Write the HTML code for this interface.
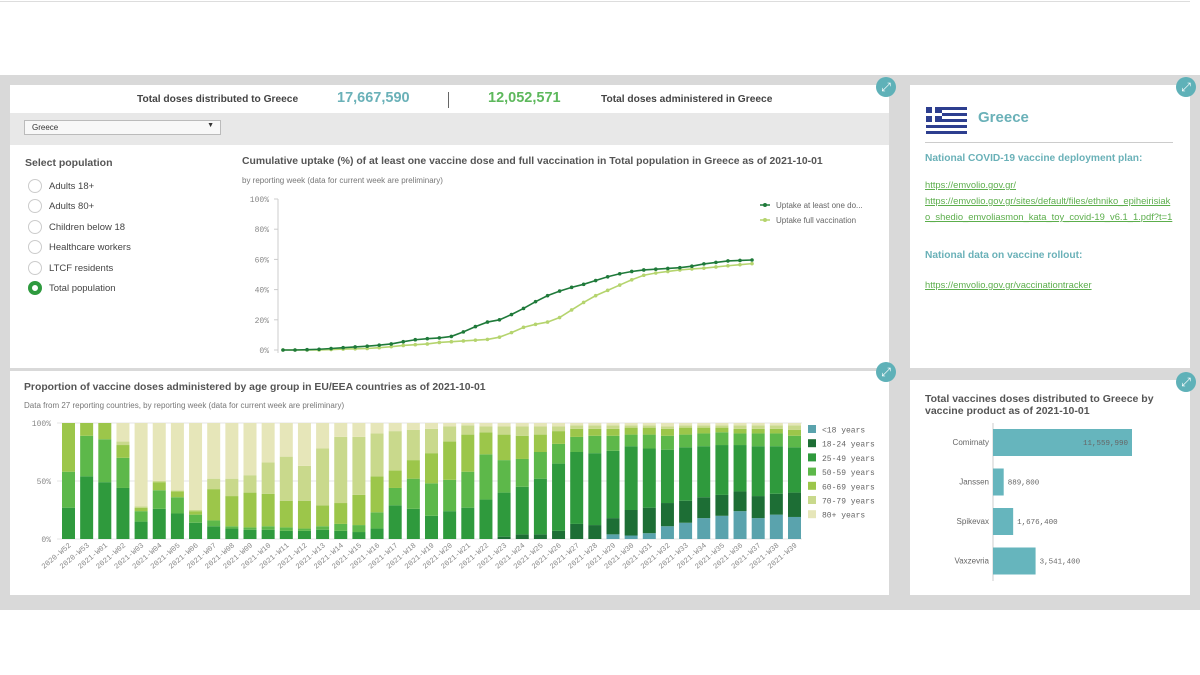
<!DOCTYPE html>
<html><head><meta charset="utf-8">
<style>
*{margin:0;padding:0;box-sizing:border-box}
body{width:1200px;height:675px;background:#fff;font-family:"Liberation Sans",sans-serif;position:relative;overflow:hidden;color:#595959}
.abs{position:absolute}
.panel{position:absolute;background:#fff}
.exp{position:absolute;width:20px;height:20px;border-radius:50%;background:#5fb1b8;color:#fff;font-size:12px;line-height:20px;text-align:center}
.radio{position:absolute;left:28px;width:14px;height:14px;border:1px solid #ccc;border-radius:50%;background:#fff}
.rl{position:absolute;left:49px;font-size:10px;color:#444}
a{color:#5cae4c;text-decoration:underline;font-size:9.4px;word-break:break-all}
</style></head><body>
<div class="abs" style="left:0;top:1px;width:1190px;height:1px;background:#ddd"></div>
<div class="abs" style="left:0;top:75px;width:1200px;height:535px;background:#d9d9d9"></div>

<div class="panel" style="left:10px;top:85px;width:879px;height:283px">
  <div class="abs" style="left:127px;top:9px;font-size:10.2px;font-weight:bold;color:#444">Total doses distributed to Greece</div>
  <div class="abs" style="left:327px;top:5px;font-size:14.5px;font-weight:bold;color:#6ab1b8">17,667,590</div>
  <div class="abs" style="left:438px;top:7px;width:1px;height:16px;background:#666"></div>
  <div class="abs" style="left:478px;top:5px;font-size:14.5px;font-weight:bold;color:#5db85c">12,052,571</div>
  <div class="abs" style="left:591px;top:9px;font-size:10.2px;font-weight:bold;color:#444">Total doses administered in Greece</div>
  <div class="abs" style="left:0;top:28px;width:879px;height:32px;background:#e8e8e8"></div>
  <div class="abs" style="left:14px;top:35px;width:197px;height:15px;background:#f8f8f8;border:1px solid #bbb;font-size:8px;padding:2px 7px;color:#333">Greece<span style="position:absolute;right:6px;top:1px;font-size:7px">▼</span></div>
  <div class="abs" style="left:15px;top:72px;font-size:10.5px;font-weight:bold;color:#555">Select population</div>
  <div class="radio" style="left:18px;top:94px"></div><div class="rl" style="left:39px;top:96px;font-size:9.5px">Adults 18+</div>
  <div class="radio" style="left:18px;top:114px"></div><div class="rl" style="left:39px;top:116px;font-size:9.5px">Adults 80+</div>
  <div class="radio" style="left:18px;top:135px"></div><div class="rl" style="left:39px;top:137px;font-size:9.5px">Children below 18</div>
  <div class="radio" style="left:18px;top:155px"></div><div class="rl" style="left:39px;top:157px;font-size:9.5px">Healthcare workers</div>
  <div class="radio" style="left:18px;top:176px"></div><div class="rl" style="left:39px;top:178px;font-size:9.5px">LTCF residents</div>
  <div class="radio" style="left:18px;top:196px;border:4px solid #2e9a3e"></div><div class="rl" style="left:39px;top:198px;font-size:9.5px">Total population</div>
  <div class="abs" style="left:232px;top:71px;font-size:10.4px;font-weight:bold;color:#555;white-space:nowrap">Cumulative uptake (%) of at least one vaccine dose and full vaccination in Total population in Greece as of 2021-10-01</div>
  <div class="abs" style="left:232px;top:91px;font-size:8px;color:#777">by reporting week (data for current week are preliminary)</div>
</div>
<div class="exp" style="left:876px;top:77px">⤢</div>

<svg class="abs" id="lc" style="left:0;top:0" width="1200" height="675"></svg>

<div class="panel" style="left:10px;top:371px;width:879px;height:224px">
  <div class="abs" style="left:14px;top:11px;font-size:10.4px;font-weight:bold;color:#555;white-space:nowrap">Proportion of vaccine doses administered by age group in EU/EEA countries as of 2021-10-01</div>
  <div class="abs" style="left:14px;top:30px;font-size:8px;color:#777">Data from 27 reporting countries, by reporting week (data for current week are preliminary)</div>
</div>
<div class="exp" style="left:876px;top:362px">⤢</div>

<div class="panel" style="left:910px;top:85px;width:280px;height:283px">
  <div class="abs" style="left:16px;top:22px;width:41px;height:27px;background:repeating-linear-gradient(#2d3e8f 0 3px,#fff 3px 6px)"><div style="position:absolute;left:0;top:0;width:16px;height:15px;background:#2d3e8f"></div><div style="position:absolute;left:6px;top:0;width:3px;height:15px;background:#fff"></div><div style="position:absolute;left:0;top:6px;width:16px;height:3px;background:#fff"></div></div>
  <div class="abs" style="left:68px;top:24px;font-size:15px;font-weight:bold;color:#6ab1b8">Greece</div>
  <div class="abs" style="left:15px;top:57px;width:248px;height:1px;background:#ccc"></div>
  <div class="abs" style="left:15px;top:68px;font-size:10.2px;font-weight:bold;color:#6ab1b8">National COVID-19 vaccine deployment plan:</div>
  <div class="abs" style="left:15px;top:91px;width:249px;line-height:15px"><a>https://emvolio.gov.gr/</a><br><a>https://emvolio.gov.gr/sites/default/files/ethniko_epiheirisiako_shedio_emvoliasmon_kata_toy_covid-19_v6.1_1.pdf?t=1</a></div>
  <div class="abs" style="left:15px;top:165px;font-size:10.2px;font-weight:bold;color:#6ab1b8">National data on vaccine rollout:</div>
  <div class="abs" style="left:15px;top:190px"><a>https://emvolio.gov.gr/vaccinationtracker</a></div>
</div>
<div class="exp" style="left:1176px;top:77px">⤢</div>

<div class="panel" style="left:910px;top:380px;width:280px;height:215px">
  <div class="abs" style="left:15px;top:13px;width:250px;font-size:10.5px;font-weight:bold;color:#555;line-height:12px">Total vaccines doses distributed to Greece by vaccine product as of 2021-10-01</div>
</div>
<div class="exp" style="left:1176px;top:372px">⤢</div>

<svg class="abs" id="bc" style="left:0;top:0" width="1200" height="675"></svg>
<svg class="abs" id="pc" style="left:0;top:0" width="1200" height="675"></svg>

<script>
const NS="http://www.w3.org/2000/svg";
function mk(p,t,a){const e=document.createElementNS(NS,t);for(const k in a)e.setAttribute(k,a[k]);p.appendChild(e);return e;}

// ---- Line chart data ----
const lineYTicks=[0,20,40,60,80,100];
const oneDose=[0,0,0.2,0.5,1,1.5,2,2.5,3.2,4,5.5,6.8,7.5,8,9,12,15.5,18.5,20,23.5,27.5,32,36,39,41.5,43.5,46,48.5,50.5,52,53,53.5,54,54.5,55.5,57,58,59,59.3,59.6];
const fullVacc=[0,0,0,0,0.3,0.6,0.8,1,1.5,2.2,3,3.5,4,5,5.5,6,6.5,7,8.5,11.5,15,17,18.5,21.5,26.5,31.5,36,39.5,43,46.5,49.5,51,52,53,53.7,54.2,55,55.8,56.5,57.2];
const lineSeriesNames=["Uptake at least one do...","Uptake full vaccination"];

// ---- Stacked bar data ----
const weeks=["2020-W52","2020-W53"];
for(let i=1;i<=39;i++)weeks.push("2021-W"+(i<10?"0":"")+i);
const ageGroups=["<18 years","18-24 years","25-49 years","50-59 years","60-69 years","70-79 years","80+ years"];
const ageColors=["#5aa3ad","#1d6e35","#2f9a3d","#5db84a","#9cc64a","#c9d98c","#e6e6b9"];
const lt18=[0,0,0,0,0,0,0,0,0,0,0,0,0,0,0,0,0,0,0,0,0,0,0,0,0,0,0,0,0,0,4,3,5,11,14,18,20,24,18,21,19];
const a18_24=[0,0,0,0,0,0,0,0,0,0,0,0,0,0,0,0,0,0,0,0,0,0,0,0,2,4,4,7,13,12,14,22,22,20,19,18,18,17,19,18,21];
const a25_49=[27,54,49,44,15,26,22,14,11,9,8,8,7,7,8,7,6,9,29,26,20,24,27,34,38,41,48,58,62,62,58,55,51,46,46,44,43,40,43,41,39];
const a50_59=[31,35,37,26,9,16,14,7,5,2,2,3,3,2,3,6,6,14,15,26,28,27,31,39,28,24,23,17,13,15,13,10,12,12,11,11,11,10,11,11,10];
const a60_69=[42,11,14,11,3,7,5,3,27,26,30,28,23,24,18,18,26,31,15,16,26,33,32,19,22,20,15,11,7,6,6,6,6,6,6,5,4,4,4,4,5];
const a70_79=[0,0,0,3,1,1,1,1,9,15,15,27,38,30,49,57,50,37,34,26,21,13,8,5,7,8,7,4,3,3,3,2,2,2,2,2,2,3,3,3,4];
const a80p=[0,0,0,16,72,50,58,75,48,48,45,34,29,37,22,12,12,9,7,6,5,3,2,3,3,3,3,3,2,2,2,2,2,3,2,2,2,2,2,2,2];
const barYTicks=[0,50,100];

// ---- Product data ----
const products=["Comirnaty","Janssen","Spikevax","Vaxzevria"];
const productDoses=[11559990,889800,1676400,3541400];

// Line chart
(function(){
 const s=document.getElementById('lc');
 const x0=283,x1=752,y0=350,y1=199;
 const X=i=>x0+(x1-x0)*i/(oneDose.length-1);
 const Y=v=>y0+(y1-y0)*v/100;
 const ax=mk(s,'line',{x1:278,y1:Y(100),x2:278,y2:Y(0)+3,stroke:'#ccc'});
 
 lineYTicks.forEach(t=>{
  const l=mk(s,'line',{x1:274,x2:278,y1:Y(t),y2:Y(t),stroke:'#ccc'});
  
  const tx=mk(s,'text',{x:269,y:Y(t)+3,'text-anchor':'end','font-size':'8','font-family':'Liberation Mono, monospace',fill:'#888'});
  tx.textContent=t+'%';
  
 });
 [[fullVacc,'#b5d46e','full-vaccination-line'],[oneDose,'#1f7a3a','one-dose-line']].forEach(([d,c,n])=>{
  const p=mk(s,'polyline',{points:d.map((v,i)=>X(i)+','+Y(v)).join(' '),fill:'none',stroke:c,'stroke-width':1.6});
  
  d.forEach((v,i)=>{const c2=mk(s,'circle',{cx:X(i),cy:Y(v),r:1.8,fill:c});
   });
 });
 [['#1f7a3a',205],['#b5d46e',220]].forEach(([c,y],i)=>{
  const l=mk(s,'line',{x1:760,x2:770,y1:y,y2:y,stroke:c,'stroke-width':1.5});
  
  const cc=mk(s,'circle',{cx:765,cy:y,r:2,fill:c});
  
  const t=mk(s,'text',{x:776,y:y+3,'font-size':'8',fill:'#666','font-family':'Liberation Sans, sans-serif'});
  t.textContent=lineSeriesNames[i];
  
 });
})();

// Stacked bars
(function(){
 const s=document.getElementById('bc');
 const series=[lt18,a18_24,a25_49,a50_59,a60_69,a70_79,a80p];
 const x0=62,step=18.15,bw=13,y0=539,y1=423;
 const Y=v=>y0-(y0-y1)*v/100;
 barYTicks.forEach(t=>{
  const g=mk(s,'line',{x1:57,x2:802,y1:Y(t),y2:Y(t),stroke:'#e4e4e4'});
  
  const tx=mk(s,'text',{x:51,y:Y(t)+3,'text-anchor':'end','font-size':'8','font-family':'Liberation Mono, monospace',fill:'#888'});
  tx.textContent=t+'%';
  
 });
 weeks.forEach((w,i)=>{
  let acc=0;const x=x0+i*step;
  series.forEach((d,k)=>{
   const v=d[i];if(!v){return;}
   const r=mk(s,'rect',{x:x,y:Y(acc+v),width:bw,height:Y(acc)-Y(acc+v),fill:ageColors[k]});
   
   acc+=v;
  });
  const cx=x+bw/2+3,cy=546;
  const t=mk(s,'text',{x:cx,y:cy,'text-anchor':'end','font-size':'7.5','font-family':'Liberation Mono, monospace',fill:'#888',transform:`rotate(-40 ${cx} ${cy})`});
  t.textContent=w;
  
 });
 ageGroups.forEach((g,k)=>{
  const y=425+k*14.2;
  const r=mk(s,'rect',{x:808,y:y,width:8,height:8,fill:ageColors[k]});
  
  const t=mk(s,'text',{x:822,y:y+7.5,'font-size':'8','font-family':'Liberation Mono, monospace',fill:'#666'});
  t.textContent=g;
  
 });
})();

// Product bars
(function(){
 const s=document.getElementById('pc');
 const x0=993,xmax=1132,maxV=11559990;
 const W=v=>(xmax-x0)*v/maxV;
 const ax=mk(s,'line',{x1:x0,x2:x0,y1:423,y2:581,stroke:'#ccc'});
 
 products.forEach((p,i)=>{
  const y=429+i*39.5,w=W(productDoses[i]);
  const r=mk(s,'rect',{x:x0,y:y,width:w,height:27,fill:'#66b5bd'});
  
  const l=mk(s,'text',{x:x0-4,y:y+16,'text-anchor':'end','font-size':'8','font-family':'Liberation Sans, sans-serif',fill:'#666'});
  l.textContent=p;
  
  const inside=w>60;
  const v=mk(s,'text',{x:inside?x0+w-4:x0+w+4,y:y+16,'text-anchor':inside?'end':'start','font-size':'7.5','font-family':'Liberation Mono, monospace',fill:'#666'});
  v.textContent=productDoses[i].toLocaleString('en-US');
  
 });
})();
</script>
</body></html>
